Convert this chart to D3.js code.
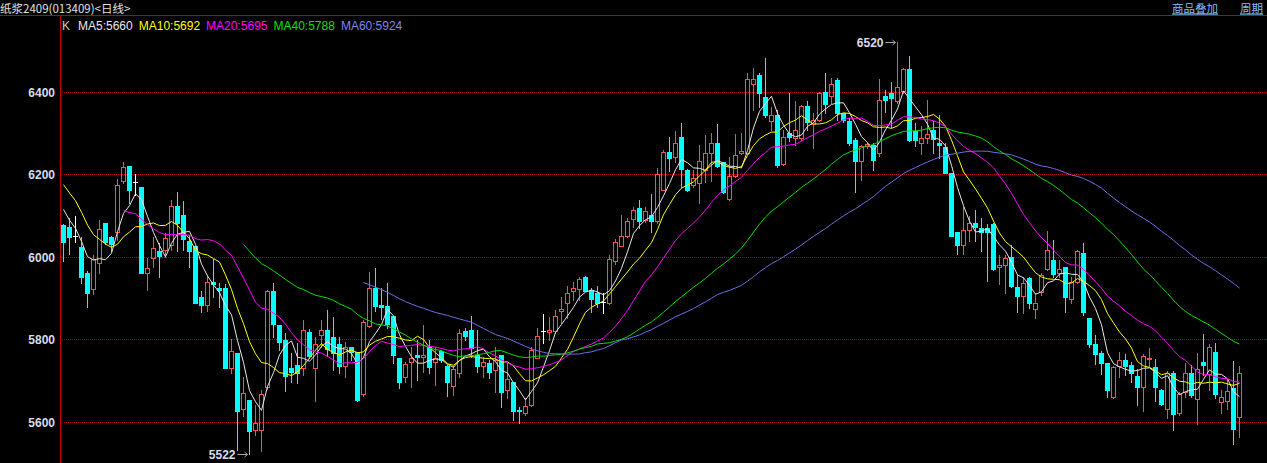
<!DOCTYPE html>
<html><head><meta charset="utf-8">
<script src="https://cdn.jsdelivr.net/npm/d3@7/dist/d3.min.js"></script>
<style>
html,body{margin:0;padding:0;background:#000;overflow:hidden;}
svg{display:block;}
</style></head>
<body>
<svg id="chart" width="1267" height="463"></svg>
<script>
// ---- data ----
const title = "纸浆2409(013409)<日线>";
const topLinks = ["商品叠加", "周期"];
const maPeriods = [5, 10, 20, 40, 60];
const maNames = ["MA5", "MA10", "MA20", "MA40", "MA60"];
const maLabelValues = [5660, 5692, 5695, 5788, 5924];
const yTicks = [5600, 5800, 6000, 6200, 6400];
// closes of the 9 sessions before the first visible candle (for moving averages)
const preCloses = [6250, 6240, 6230, 6225, 6230, 6180, 6150, 6110, 6098];
const opens = [6077,6072,6051,6023,5960,5921,5986,6081,6047,6061,6185,6220,6181,6170,5960,5996,6013,6017,6029,6124,6102,6039,6025,5902,5884,5938,5924,5925,5731,5766,5630,5653,5581,5581,5685,5917,5835,5797,5730,5738,5731,5818,5731,5810,5823,5805,5788,5734,5780,5770,5667,5831,5924,5883,5881,5857,5755,5708,5746,5762,5758,5780,5746,5772,5735,5687,5717,5821,5823,5762,5736,5742,5725,5762,5677,5697,5629,5620,5640,5755,5820,5818,5821,5869,5887,5916,5923,5950,5920,5913,5891,5889,5991,6026,6051,6091,6118,6090,6102,6086,6162,6254,6243,6290,6211,6174,6178,6211,6251,6275,6229,6140,6195,6251,6251,6419,6441,6387,6330,6344,6224,6300,6288,6288,6366,6322,6332,6399,6390,6429,6348,6330,6284,6233,6269,6271,6253,6390,6398,6377,6403,6455,6304,6277,6288,6308,6277,6266,6204,6061,6029,6065,6083,6069,6069,6080,5975,5980,5999,5926,5906,5948,5873,5915,5970,5992,5961,5976,5897,5940,6009,5852,5789,5766,5743,5659,5734,5750,5738,5711,5683,5751,5732,5677,5632,5719,5620,5673,5717,5654,5744,5716,5770,5647,5651,5681,5612];
const highs = [6080,6093,6099,6049,5965,6004,6089,6082,6050,6188,6230,6220,6201,6170,5996,6047,6033,6057,6138,6158,6136,6053,6025,5916,5956,5994,5936,5934,5801,5766,5709,5653,5640,5677,5920,5937,5835,5814,5766,5790,5847,5824,5806,5847,5871,5855,5806,5794,5782,5770,5847,5963,5972,5924,5937,5857,5755,5746,5782,5798,5835,5798,5782,5775,5738,5735,5824,5827,5857,5823,5758,5750,5782,5762,5742,5697,5635,5657,5782,5827,5861,5855,5870,5903,5928,5940,5952,5954,5924,5929,5913,6005,6043,6102,6094,6120,6138,6120,6153,6215,6258,6290,6304,6324,6212,6211,6271,6296,6300,6322,6230,6243,6298,6300,6445,6458,6445,6482,6364,6356,6308,6397,6379,6368,6379,6348,6399,6445,6433,6433,6350,6336,6288,6271,6277,6275,6431,6405,6423,6520,6458,6487,6324,6318,6381,6330,6344,6277,6204,6061,6122,6098,6114,6094,6080,6082,6004,6004,6029,5956,5952,5952,5911,5960,6063,6041,5992,5976,5952,6017,6034,5852,5810,5772,5743,5734,5770,5764,5746,5729,5764,5778,5751,5679,5724,5724,5673,5743,5738,5766,5813,5789,5790,5677,5701,5748,5735];
const lows = [5991,6008,6037,5937,5879,5910,5960,6030,6013,6041,6178,6131,6150,5960,5920,5975,5950,6000,6017,6013,6017,5976,5887,5867,5869,5903,5879,5731,5717,5531,5614,5522,5568,5530,5680,5806,5774,5675,5697,5695,5713,5754,5651,5780,5759,5725,5719,5708,5750,5649,5662,5829,5869,5848,5827,5743,5681,5697,5685,5701,5721,5717,5689,5745,5662,5665,5709,5798,5758,5721,5709,5705,5673,5636,5657,5604,5596,5616,5639,5754,5790,5798,5816,5839,5851,5895,5895,5916,5867,5879,5863,5886,5983,6025,6049,6073,6069,6085,6061,6083,6161,6209,6231,6170,6160,6170,6130,6182,6185,6219,6155,6138,6193,6250,6250,6356,6364,6340,6308,6219,6222,6280,6271,6284,6308,6263,6330,6348,6373,6332,6328,6271,6156,6187,6263,6211,6245,6352,6316,6373,6397,6280,6269,6250,6276,6251,6239,6203,6050,6007,6007,6039,6039,6015,5942,5968,5934,5911,5926,5867,5864,5875,5851,5907,5968,5952,5952,5867,5889,5936,5859,5780,5740,5716,5659,5657,5708,5713,5697,5640,5627,5734,5651,5640,5608,5581,5616,5661,5661,5594,5713,5678,5657,5622,5632,5546,5564];
const closes = [6037,6049,6051,5952,5913,5995,6067,6037,6031,6174,6217,6161,6181,5960,5972,6021,6002,6045,6124,6083,6043,6014,5889,5882,5940,5934,5920,5731,5772,5627,5669,5578,5596,5667,5917,5837,5794,5711,5721,5719,5823,5759,5789,5823,5776,5766,5734,5782,5768,5653,5843,5924,5881,5878,5837,5762,5697,5739,5754,5758,5762,5732,5754,5750,5697,5727,5814,5808,5778,5735,5745,5721,5750,5671,5703,5627,5625,5638,5774,5808,5820,5822,5857,5873,5911,5924,5946,5918,5898,5887,5891,5994,6037,6051,6087,6114,6088,6110,6086,6201,6254,6239,6275,6212,6161,6192,6233,6251,6275,6220,6156,6197,6247,6257,6431,6431,6397,6344,6344,6223,6290,6290,6308,6366,6328,6332,6397,6371,6419,6348,6332,6276,6233,6269,6274,6235,6381,6381,6385,6411,6455,6284,6284,6288,6298,6285,6271,6204,6051,6029,6065,6083,6073,6061,6061,5970,5980,5996,5928,5906,5936,5887,5889,5957,6017,5958,5970,5903,5940,6015,5865,5789,5764,5742,5677,5732,5750,5735,5719,5685,5759,5755,5683,5643,5719,5618,5667,5717,5665,5727,5738,5782,5666,5661,5675,5583,5717];

// ---- styles ----
const C = {
  bg: "#000000", frame: "#c00000", grid: "#b00000",
  up: "#ff4c4c", down: "#00ffff", doji: "#ffffff",
  text: "#d6dcea", link: "#82bcff", arrow: "#a8a8a8",
  ma: ["#e8e8e8", "#ffff00", "#ff00ff", "#00e000", "#6f6fe8"]
};
const W = 1267, H = 463;
const svg = d3.select("#chart");
svg.append("rect").attr("width", W).attr("height", H).attr("fill", C.bg);

const n = closes.length;
const x = d3.scaleLinear().domain([0, n - 1]).range([63.5, 63.5 + 6 * (n - 1)]);
const y = d3.scaleLinear().domain([5600, 6400]).range([421.7, 91.9]);
const py = v => Math.round(y(v)) + 0.5;

// gridlines
svg.append("g").selectAll("line").data(yTicks).join("line")
  .attr("x1", 62).attr("x2", W).attr("y1", d => py(d)).attr("y2", d => py(d))
  .attr("stroke", C.grid).attr("stroke-width", 1).attr("stroke-dasharray", "1,1")
  .attr("shape-rendering", "crispEdges");

// y axis labels
const yAxis = d3.axisLeft(y).tickValues(yTicks).tickSize(0).tickPadding(5).tickFormat(d3.format("d"));
const ag = svg.append("g").attr("transform", "translate(60,0)").call(yAxis);
ag.select(".domain").remove();
ag.selectAll("text").attr("fill", C.text).attr("font-family", "Liberation Sans, Arial, sans-serif")
  .attr("font-size", 12).attr("font-weight", "bold").attr("dy", "0.36em");

// frame lines
svg.append("line").attr("x1", 0).attr("x2", W).attr("y1", 15.5).attr("y2", 15.5)
  .attr("stroke", C.frame).attr("stroke-width", 1);
svg.append("line").attr("x1", 60.5).attr("x2", 60.5).attr("y1", 16).attr("y2", H)
  .attr("stroke", C.frame).attr("stroke-width", 1);

// candles
const data = closes.map((c, i) => ({ i, o: opens[i], h: highs[i], l: lows[i], c }));
const cg = svg.append("g").attr("shape-rendering", "crispEdges");
data.forEach(d => {
  const cx = Math.floor(x(d.i)) + 0.5;
  const top = Math.round(y(Math.max(d.o, d.c)));
  const bot = Math.round(y(Math.min(d.o, d.c)));
  const yh = Math.round(y(d.h)), yl = Math.round(y(d.l));
  if (d.c > d.o) {
    cg.append("line").attr("x1", cx).attr("x2", cx).attr("y1", yh).attr("y2", top).attr("stroke", C.up);
    cg.append("line").attr("x1", cx).attr("x2", cx).attr("y1", bot + 1).attr("y2", yl + 1).attr("stroke", C.up);
    cg.append("rect").attr("x", cx - 2).attr("y", top + 0.5).attr("width", 4).attr("height", Math.max(1, bot - top))
      .attr("fill", "none").attr("stroke", C.up).attr("stroke-width", 1);
  } else if (d.c < d.o) {
    cg.append("line").attr("x1", cx).attr("x2", cx).attr("y1", yh).attr("y2", yl + 1).attr("stroke", C.down);
    cg.append("rect").attr("x", cx - 2.5).attr("y", top).attr("width", 5).attr("height", Math.max(1, bot - top + 1))
      .attr("fill", C.down);
  } else {
    cg.append("line").attr("x1", cx).attr("x2", cx).attr("y1", yh).attr("y2", yl + 1).attr("stroke", C.doji);
    cg.append("line").attr("x1", cx - 2.5).attr("x2", cx + 2.5).attr("y1", top + 0.5).attr("y2", top + 0.5).attr("stroke", C.doji);
  }
});

// moving averages from closes
const allCloses = preCloses.concat(closes);
const off = preCloses.length;
const maSeries = maPeriods.map(p => {
  const pts = [];
  for (let i = 0; i < n; i++) {
    const k = i + off;
    if (k >= p - 1) pts.push({ i, v: d3.mean(allCloses.slice(k - p + 1, k + 1)) });
  }
  return pts;
});
const line = d3.line().x(d => x(d.i)).y(d => y(d.v));
svg.append("g").selectAll("path").data(maSeries).join("path")
  .attr("d", line).attr("fill", "none").attr("stroke", (d, k) => C.ma[k]).attr("stroke-width", 1);

// title + legend
const font = "Liberation Sans, Arial, sans-serif";
svg.append("text").attr("x", 0).attr("y", 12.5).attr("fill", "#e0e0e0")
  .attr("font-family", "Noto Sans CJK SC, sans-serif").attr("font-size", 11.5).text(title);
const lg = svg.append("text").attr("x", 62).attr("y", 30).attr("font-family", font).attr("font-size", 12);
lg.append("tspan").attr("fill", "#c8c8c8").text("K");
maNames.forEach((nm, k) => {
  lg.append("tspan").attr("fill", k === 4 ? "#7f86f0" : C.ma[k])
    .attr("dx", k === 0 ? 8 : 6).text(nm + ":" + maLabelValues[k]);
});
const linkX = [1172, 1240];
topLinks.forEach((t, k) => {
  svg.append("text").attr("x", linkX[k]).attr("y", 12.5).attr("fill", C.link)
    .attr("font-family", "Noto Sans CJK SC, sans-serif").attr("font-size", 11.5)
    .attr("text-decoration", "underline").text(t);
});

// high / low annotations
const hiIdx = d3.maxIndex(highs), loIdx = d3.minIndex(lows);
function annotate(idx, val) {
  const cx = Math.floor(x(idx)) + 0.5;
  const yy = Math.round(y(val)) + 0.5;
  svg.append("text").attr("x", cx - 14).attr("y", yy).attr("dy", "0.36em").attr("text-anchor", "end")
    .attr("fill", C.text).attr("font-family", font).attr("font-size", 12).attr("font-weight", "bold").text(val);
  svg.append("line").attr("x1", cx - 12).attr("x2", cx - 2).attr("y1", yy).attr("y2", yy).attr("stroke", C.arrow);
  svg.append("path").attr("d", `M${cx - 5},${yy - 2.5}L${cx - 2},${yy}L${cx - 5},${yy + 2.5}`)
    .attr("fill", "none").attr("stroke", C.arrow);
}
annotate(hiIdx, highs[hiIdx]);
annotate(loIdx, lows[loIdx]);
</script>
</body></html>
